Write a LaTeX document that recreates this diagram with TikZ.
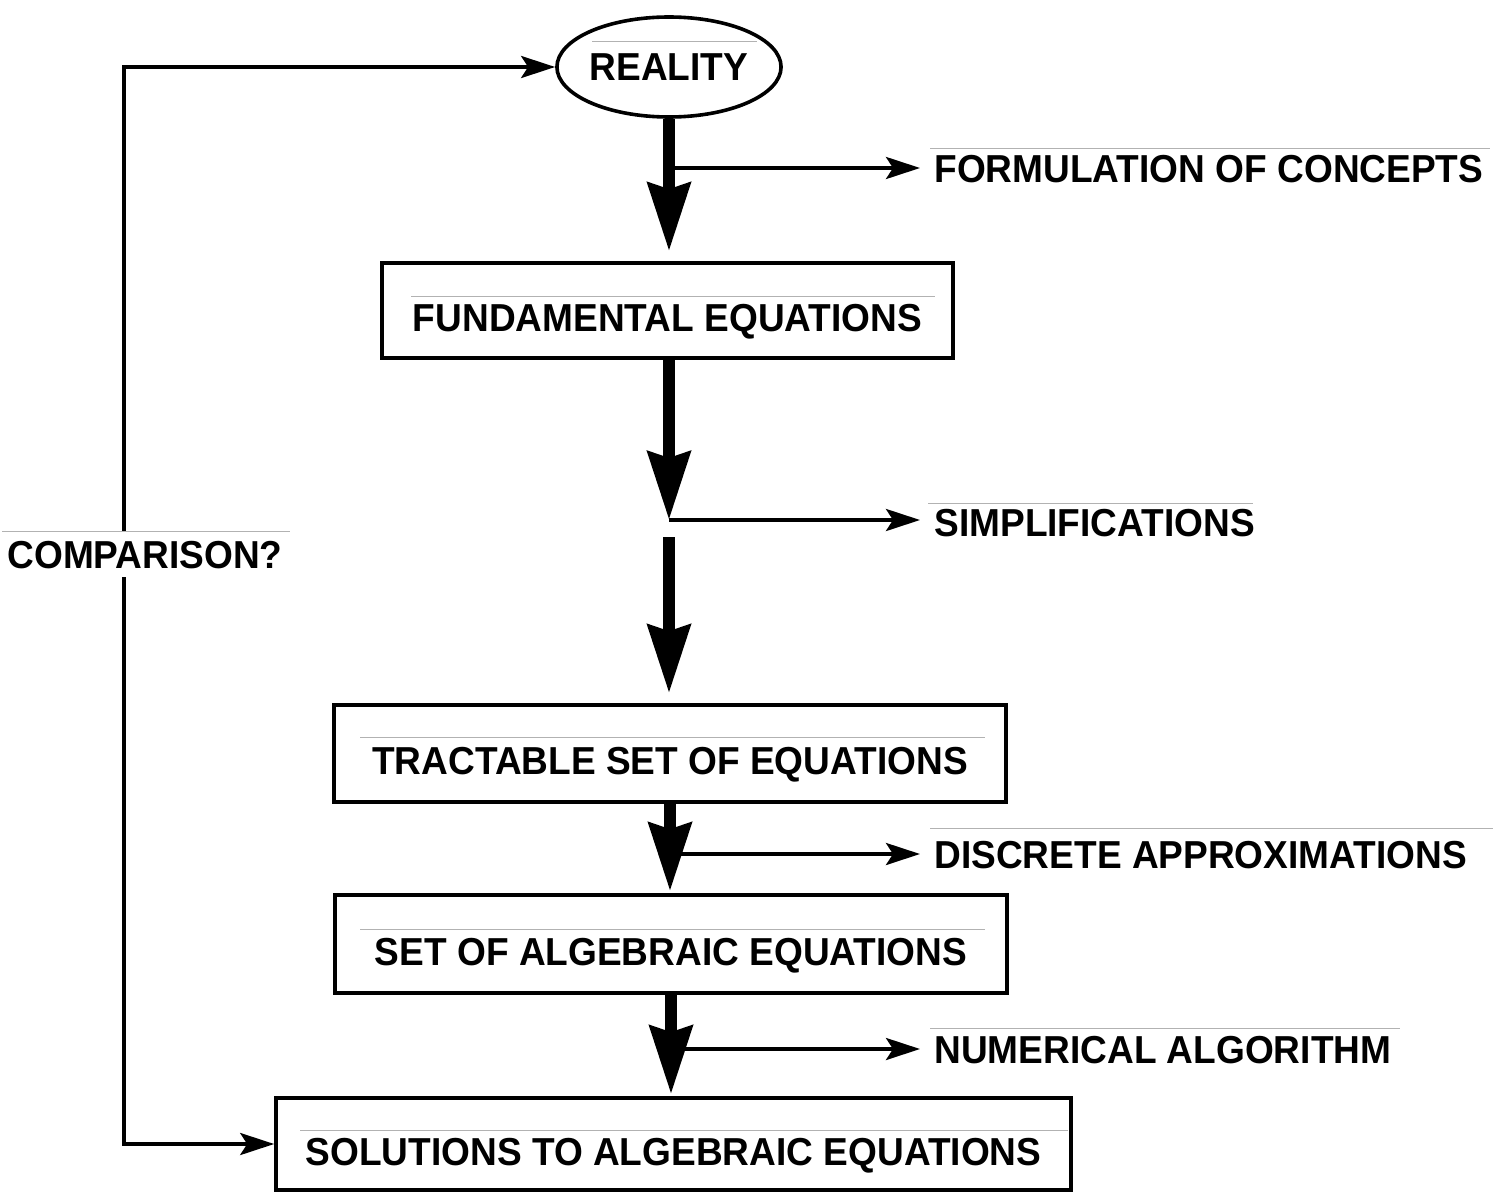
\documentclass[tikz,border=0pt]{standalone}
\usepackage{fontspec}
\setmainfont{Liberation Sans}[FakeStretch=0.95]
\usetikzlibrary{arrows.meta,shapes.geometric}
\begin{document}
\begin{tikzpicture}[x=0.5pt,y=-0.5pt,
  lbl/.style={font=\bfseries\fontsize{19.5}{22}\selectfont, inner sep=0pt, text height=14pt, text depth=0pt},
  box/.style={draw, line width=1.8pt, lbl, text height=21pt},
  side/.style={lbl, anchor=west, inner xsep=7pt},
  big/.style={line width=6pt, -{Stealth[length=34pt,width=21pt,inset=3pt]}, shorten >=5pt},
  small/.style={line width=1.9pt, -{Stealth[length=17pt,width=11pt,inset=3.5pt]}},
  rule/.style={gray!60, line width=0.5pt}]
\useasboundingbox (0,0) rectangle (1507,1193);

% nodes
\node[draw, ellipse, line width=1.8pt, minimum width=108pt, minimum height=50pt, lbl] (real) at (669,67) {REALITY};
\node[box, minimum width=285.5pt, minimum height=47.5pt] (fund) at (667.5,310.5) {FUNDAMENTAL EQUATIONS};
\node[box, minimum width=336pt, minimum height=48.5pt] (trac) at (670,753.5) {TRACTABLE SET OF EQUATIONS};
\node[box, minimum width=336pt, minimum height=49pt] (alg) at (671,944) {SET OF ALGEBRAIC EQUATIONS};
\node[box, minimum width=397.5pt, minimum height=46pt] (sol) at (673.5,1144) {SOLUTIONS TO ALGEBRAIC EQUATIONS};

\node[side] (form) at (920,168) {FORMULATION OF CONCEPTS};
\node[side] (simp) at (920,522) {SIMPLIFICATIONS};
\node[side] (disc) at (920,854) {DISCRETE APPROXIMATIONS};
\node[side] (num) at (920,1049) {NUMERICAL ALGORITHM};
\node[lbl, inner ysep=4.5pt] (comp) at (145,554) {COMPARISON?};

\coordinate (s1) at (669,520);
\coordinate (s2) at (669,537);
\coordinate (lx) at (124,0);

% main thick arrows
\draw[big] (real.south) -- (real.south |- fund.north);
\draw[big, shorten >=0pt] (fund.south -| s1) -- (s1);
\draw[big] (s2) -- (s2 |- trac.north);
\draw[big, shorten >=1pt] (trac.south) -- (trac.south |- alg.north);
\draw[big, shorten >=1pt] (alg.south) -- (alg.south |- sol.north);

% side arrows
\draw[small] (real.south |- form.west) -- (form.west);
\draw[small] (s1) -- (s1 -| simp.west);
\draw[small] (trac.south |- disc.west) -- (disc.west);
\draw[small] (alg.south |- num.west) -- (num.west);

% comparison loop
\draw[small] (lx |- comp.north) -- (lx |- real.west) -- (real.west);
\draw[small] (lx |- comp.south) -- (lx |- sol.west) -- (sol.west);

% faint rules above texts
\draw[rule] (592,42) -- (757,42);
\draw[rule] (930,148) -- (1490,148);
\draw[rule] (411,296) -- (935,296);
\draw[rule] (928,503) -- (1253,503);
\draw[rule] (2,531) -- (290,531);
\draw[rule] (360,737) -- (985,737);
\draw[rule] (930,828) -- (1493,828);
\draw[rule] (360,929) -- (985,929);
\draw[rule] (930,1028) -- (1400,1028);
\draw[rule] (300,1130) -- (1068,1130);
\end{tikzpicture}
\end{document}
